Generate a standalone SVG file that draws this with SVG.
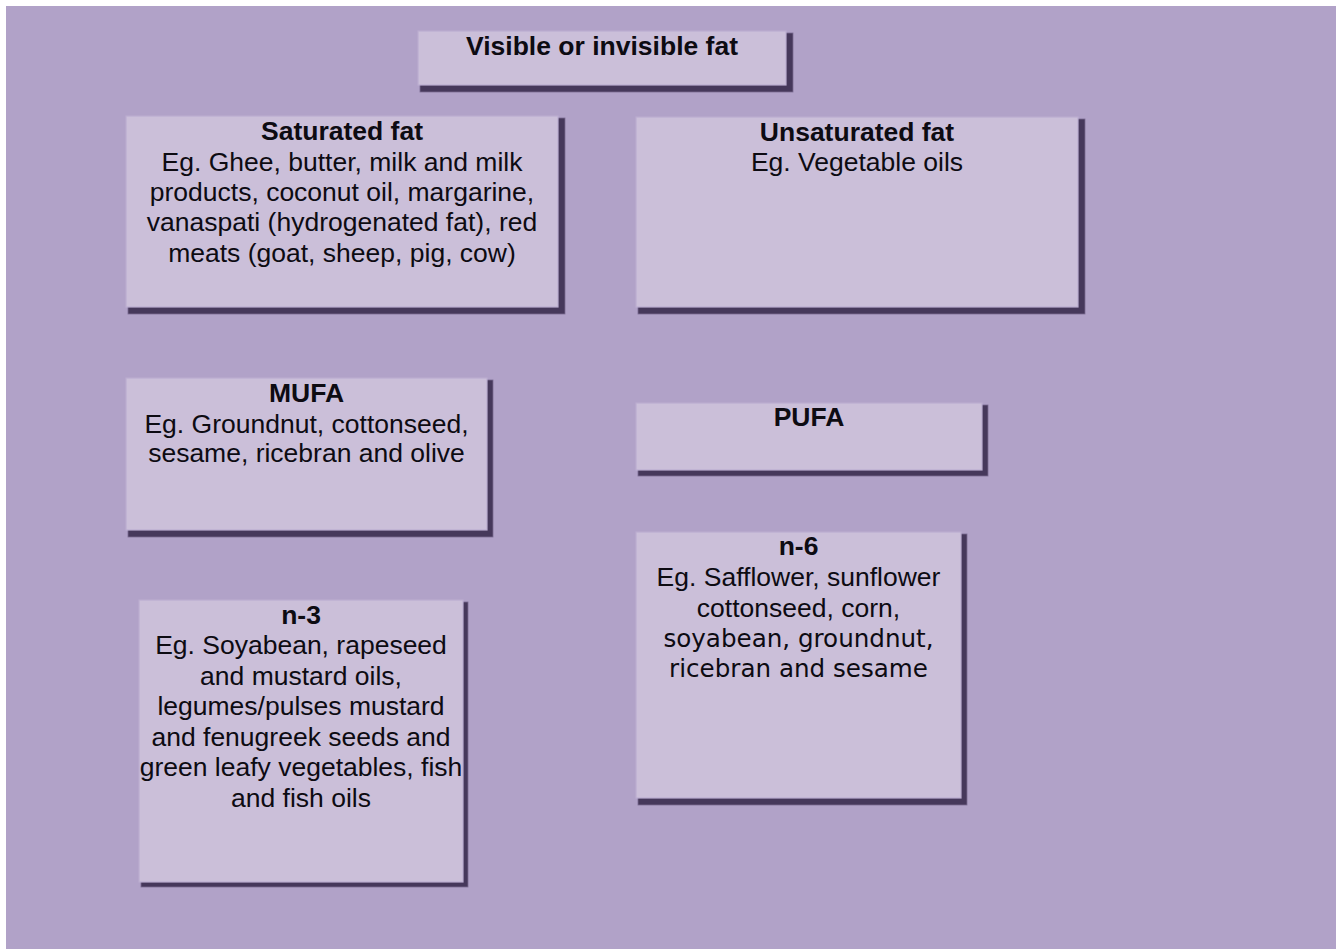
<svg xmlns="http://www.w3.org/2000/svg" width="1337" height="950" viewBox="0 0 1337 950">
<style>
.bg{fill:#b1a2c8}
.sh{fill:#46385b;stroke:#7a6c92;stroke-width:0.8}
.bx{fill:#cbbfd9;stroke:#bbadd0;stroke-width:1.2}
text{font-family:"Liberation Sans",Arial,sans-serif;font-size:26.5px;fill:#0d0b12;text-anchor:middle}
.t{font-weight:bold}
.dv{font-family:"DejaVu Sans",sans-serif;font-size:24.6px}
</style>
<rect class="bg" x="6" y="6" width="1330" height="943"/>
<g id="connectors"></g>
<g id="node-visible">
<rect class="sh" x="420" y="33" width="373" height="59"/>
<rect class="bx" x="418" y="31" width="368" height="54"/>
<text class="t" x="602" y="55">Visible or invisible fat</text>
</g>
<g id="node-saturated">
<rect class="sh" x="128" y="118" width="437" height="196"/>
<rect class="bx" x="126" y="116" width="432" height="191"/>
<text class="t" x="342" y="140">Saturated fat</text>
<text x="342" y="171">Eg. Ghee, butter, milk and milk</text>
<text x="342" y="201">products, coconut oil, margarine,</text>
<text x="342" y="231">vanaspati (hydrogenated fat), red</text>
<text x="342" y="261.5">meats (goat, sheep, pig, cow)</text>
</g>
<g id="node-unsaturated">
<rect class="sh" x="638" y="119" width="447" height="195"/>
<rect class="bx" x="636" y="117" width="442" height="190"/>
<text class="t" x="857" y="141">Unsaturated fat</text>
<text x="857" y="171">Eg. Vegetable oils</text>
</g>
<g id="node-mufa">
<rect class="sh" x="128" y="380" width="365" height="157"/>
<rect class="bx" x="126" y="378" width="361" height="152"/>
<text class="t" x="306.5" y="402">MUFA</text>
<text x="306.5" y="432.5">Eg. Groundnut, cottonseed,</text>
<text x="306.5" y="462">sesame, ricebran and olive</text>
</g>
<g id="node-pufa">
<rect class="sh" x="638" y="405" width="350" height="71"/>
<rect class="bx" x="636" y="403" width="346" height="67"/>
<text class="t" x="809" y="426">PUFA</text>
</g>
<g id="node-n3">
<rect class="sh" x="141" y="602" width="327" height="285"/>
<rect class="bx" x="139" y="600" width="324" height="282"/>
<text class="t" x="301" y="623.5">n-3</text>
<text x="301" y="654">Eg. Soyabean, rapeseed</text>
<text x="301" y="684.5">and mustard oils,</text>
<text x="301" y="715">legumes/pulses mustard</text>
<text x="301" y="745.5">and fenugreek seeds and</text>
<text x="301" y="776">green leafy vegetables, fish</text>
<text x="301" y="806.5">and fish oils</text>
</g>
<g id="node-n6">
<rect class="sh" x="638" y="534" width="329" height="271"/>
<rect class="bx" x="636" y="532" width="325" height="266"/>
<text class="t" x="798.5" y="555">n-6</text>
<text x="798.5" y="585.5">Eg. Safflower, sunflower</text>
<text x="798.5" y="616.5">cottonseed, corn,</text>
<text class="dv" x="798.5" y="647">soyabean, groundnut,</text>
<text class="dv" x="798.5" y="677">ricebran and sesame</text>
</g>
</svg>
